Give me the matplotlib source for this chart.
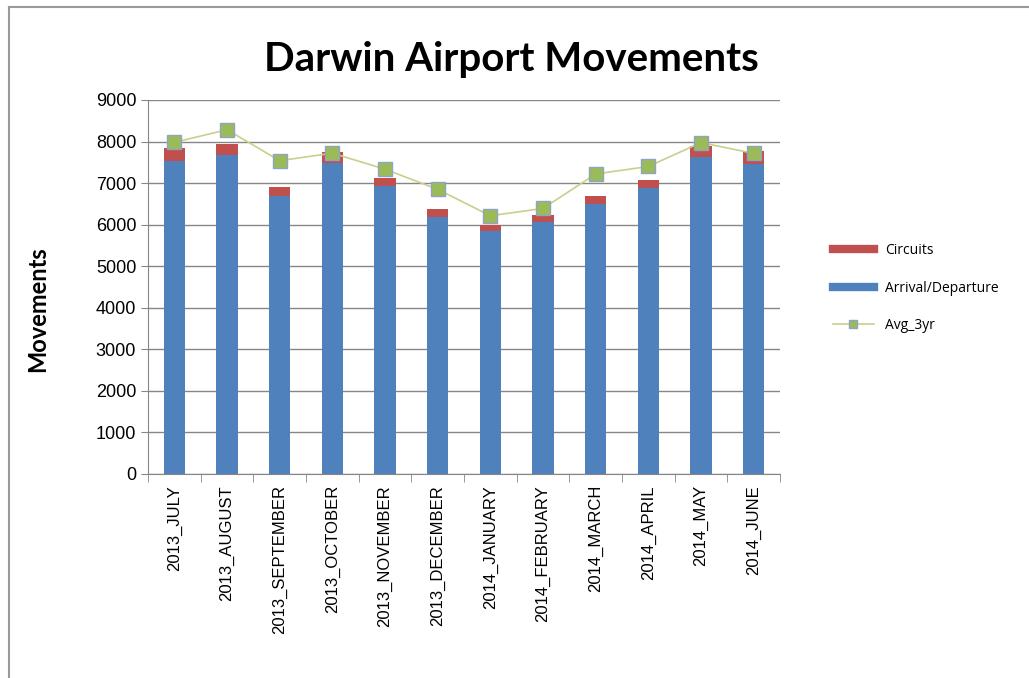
import matplotlib.pyplot as plt
from matplotlib.lines import Line2D
import numpy as np

# data
months = ['2013_JULY', '2013_AUGUST', '2013_SEPTEMBER', '2013_OCTOBER', '2013_NOVEMBER',
          '2013_DECEMBER', '2014_JANUARY', '2014_FEBRUARY', '2014_MARCH', '2014_APRIL',
          '2014_MAY', '2014_JUNE']
arr_dep = [7530, 7670, 6690, 7490, 6940, 6190, 5840, 6070, 6500, 6880, 7630, 7460]
circuits = [310, 275, 205, 265, 175, 175, 155, 160, 180, 195, 270, 305]
avg_3yr = [7980, 8285, 7540, 7720, 7335, 6850, 6215, 6390, 7220, 7400, 7975, 7715]

blue = '#4F81BD'
red = '#C0504D'
green = '#9BBB59'

fig = plt.figure(figsize=(10.29, 6.78), dpi=100)
# chart frame, only left and top edges are in view
fig.add_artist(Line2D([9 / 1029, 9 / 1029], [0, 1 - 7 / 678], transform=fig.transFigure,
                      color='#9A9A9A', linewidth=1.5))
fig.add_artist(Line2D([9 / 1029, 1], [1 - 7 / 678, 1 - 7 / 678], transform=fig.transFigure,
                      color='#9A9A9A', linewidth=1.5))

ax = fig.add_axes([148 / 1029, 1 - 474 / 678, 632 / 1029, 374 / 678])

x = np.arange(len(months))
ax.bar(x, arr_dep, width=0.4, color=blue, zorder=2)
ax.bar(x, circuits, width=0.4, bottom=arr_dep, color=red, zorder=2)
ax.plot(x, avg_3yr, color='#C8D08A', linewidth=1.2, marker='s', markersize=9.5,
        markerfacecolor=green, markeredgecolor='#8FA3C4', markeredgewidth=1, zorder=3)

ax.set_xlim(-0.5, len(months) - 0.5)
ax.set_ylim(0, 9000)
ax.set_yticks(range(0, 9001, 1000))
ax.yaxis.grid(True, color='#868686', linewidth=1, zorder=0)
ax.set_axisbelow(True)

for s in ['top', 'right']:
    ax.spines[s].set_visible(False)
for s in ['left', 'bottom']:
    ax.spines[s].set_color('#868686')

ax.set_xticks(x)
ax.set_xticklabels(months, rotation=90, fontsize=12, family='Liberation Sans')
ax.set_xticks(np.arange(-0.5, len(months), 1), minor=True)
ax.tick_params(axis='x', which='major', length=0, pad=8)
ax.tick_params(axis='x', which='minor', length=6, color='#868686')
ax.tick_params(axis='y', length=5, color='#868686', labelsize=13)
for t in ax.get_yticklabels():
    t.set_family('Liberation Sans')

ax.set_ylabel('Movements', fontsize=17, fontweight='bold', family='Lato')
ax.yaxis.set_label_coords(-0.156, 0.44)
fig.text(0.497, 0.912, 'Darwin Airport Movements', ha='center', va='center',
         fontsize=29, fontweight='bold', family='Lato')

handles = [Line2D([], [], color=red, linewidth=6),
           Line2D([], [], color=blue, linewidth=6),
           Line2D([], [], color='#C8D08A', linewidth=1.2, marker='s', markersize=6,
                  markerfacecolor=green, markeredgecolor='#8FA3C4')]
fig.legend(handles, ['Circuits', 'Arrival/Departure', 'Avg_3yr'], loc='center left',
           bbox_to_anchor=(820 / 1029, 1 - 288 / 678), frameon=False,
           handlelength=3, labelspacing=1.6, prop={'family': 'Open Sans', 'size': 10})

fig.savefig('out.png', dpi=100)
